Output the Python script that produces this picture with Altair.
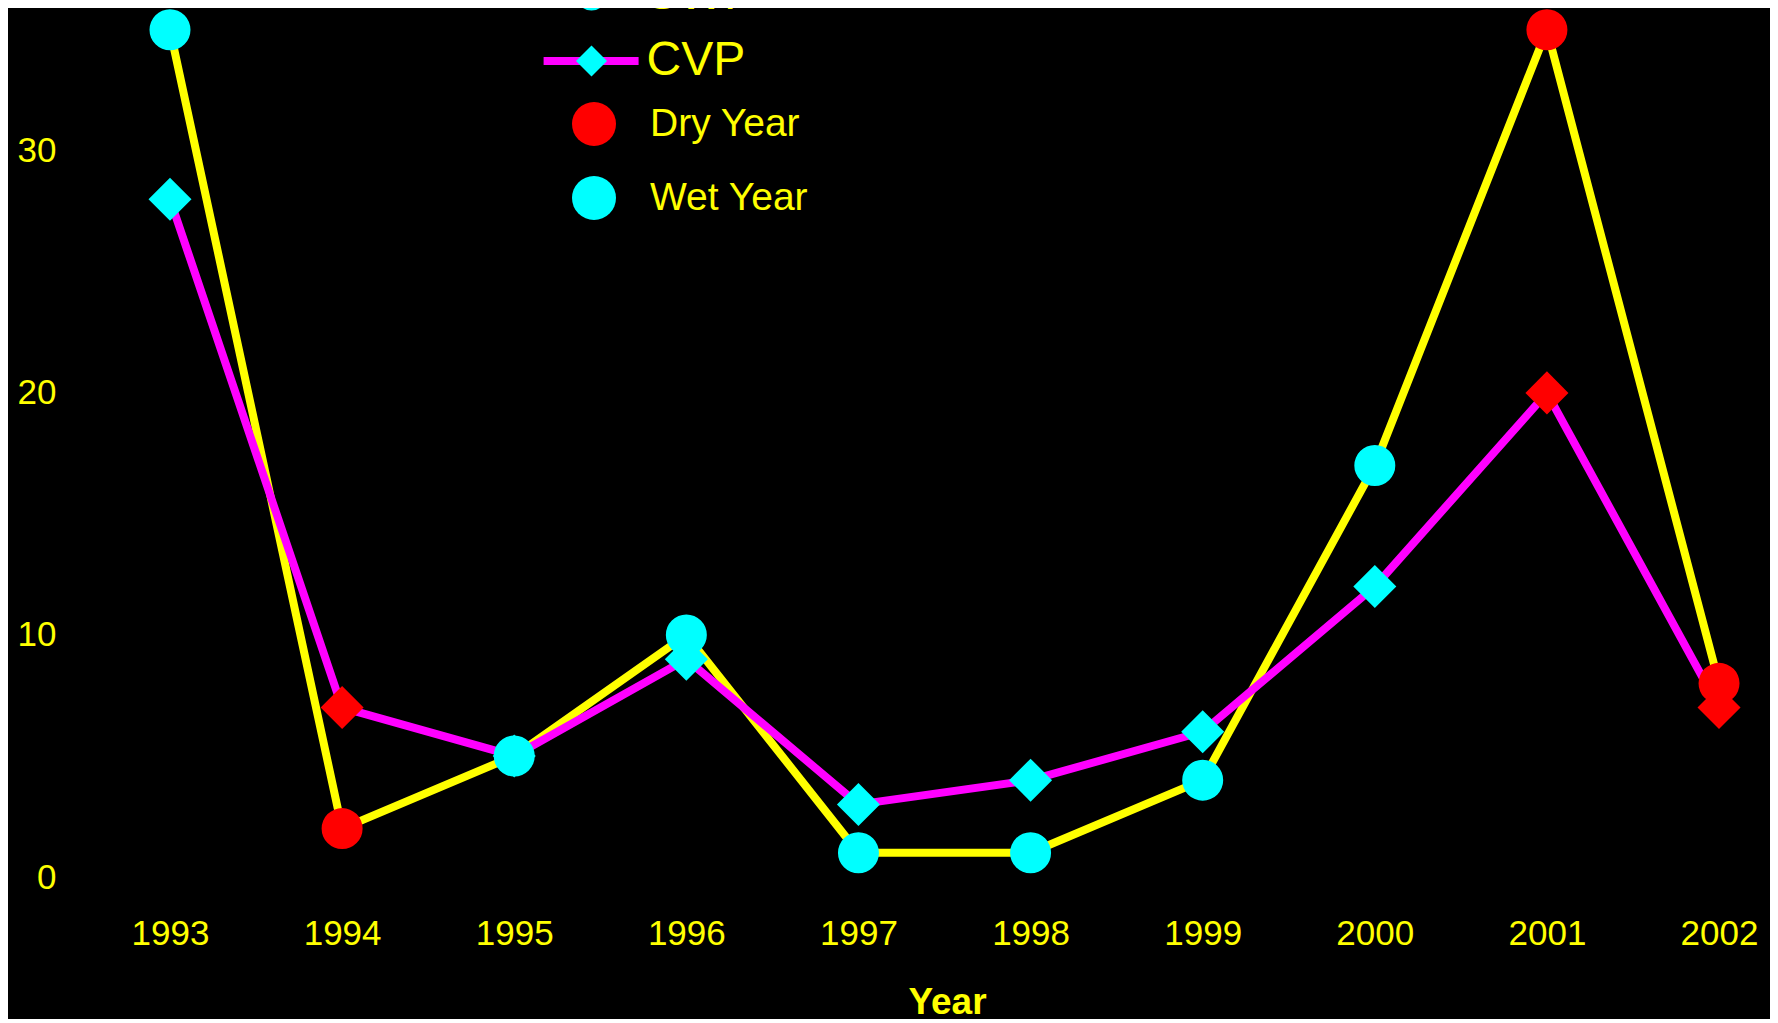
import altair as alt
import pandas as pd

years = [1993, 1994, 1995, 1996, 1997, 1998, 1999, 2000, 2001, 2002]
swp = [35, 2, 5, 10, 1, 1, 4, 17, 35, 8]
cvp = [28, 7, 5, 9, 3, 4, 6, 12, 20, 7]
year_type = ["Wet Year", "Dry Year", "Wet Year", "Wet Year", "Wet Year",
             "Wet Year", "Wet Year", "Wet Year", "Dry Year", "Dry Year"]
series_names = ["SWP", "CVP"]
type_names = ["Dry Year", "Wet Year"]
y_ticks = [0, 10, 20, 30]

rows = []
for name, vals in zip(series_names, [swp, cvp]):
    for yr, v, t in zip(years, vals, year_type):
        rows.append({"Year": yr, "value": v, "series": name, "type": t})
df = pd.DataFrame(rows)

YELLOW = "#FFFF00"
MAGENTA = "#FF00FF"
CYAN = "#00FFFF"
RED = "#FF0000"
FONT = "Liberation Sans"

x = alt.X(
    "Year:Q",
    scale=alt.Scale(domain=[1992.419, 2002.238], nice=False, zero=False),
    axis=alt.Axis(
        values=years, format="d", title="Year",
        labelBaseline="alphabetic", labelPadding=67, tickSize=0, ticks=False,
        labelFlush=False, labelOverlap=False,
        titleX=877, titleY=136, titleBaseline="alphabetic", titleAlign="center",
        titleFontSize=37, titleFontWeight="bold", titleColor=YELLOW, titleFont=FONT,
    ),
)
y = alt.Y(
    "value:Q",
    scale=alt.Scale(domain=[0, 35.9], nice=False),
    axis=alt.Axis(values=y_ticks, title=None, labelPadding=14, tickSize=0, ticks=False),
)

base = alt.Chart(df)

lines = base.mark_line(strokeWidth=8, strokeCap="round", strokeJoin="round").encode(
    x=x, y=y,
    stroke=alt.Stroke(
        "series:N", sort=series_names,
        scale=alt.Scale(range=[YELLOW, MAGENTA]),
        legend=alt.Legend(
            title=None, orient="none", legendX=469.6, legendY=-37,
            symbolType="stroke", symbolSize=9025, symbolStrokeWidth=8,
            clipHeight=48, rowPadding=18, labelOffset=4,
            labelFontSize=48, labelColor=YELLOW, labelFont=FONT,
            padding=0, zindex=1,
        ),
    ),
)

shape_enc = alt.Shape(
    "series:N",
    scale=alt.Scale(domain=series_names, range=["circle", "diamond"]),
    legend=alt.Legend(
        title=None, orient="none", legendX=497.5, legendY=-37,
        symbolSize=961, symbolFillColor=CYAN, symbolStrokeWidth=0,
        clipHeight=48, rowPadding=18, labelOpacity=0, labelFontSize=48,
        padding=0, zindex=2,
    ),
)
fill_enc = alt.Fill(
    "type:N",
    scale=alt.Scale(domain=type_names, range=[RED, CYAN]),
    legend=alt.Legend(
        title=None, orient="none", legendX=502, legendY=94,
        symbolType="circle", symbolSize=1936, symbolStrokeWidth=0,
        rowPadding=30, labelOffset=34, labelFontSize=39,
        labelColor=YELLOW, labelFont=FONT, padding=0,
    ),
)

circles = base.transform_filter(alt.datum.series == "SWP").mark_point(
    filled=True, size=1681, opacity=1
).encode(x=x, y=y, shape=shape_enc, fill=fill_enc)

diamonds = base.transform_filter(alt.datum.series == "CVP").mark_point(
    filled=True, size=1850, opacity=1
).encode(x=x, y=y, shape=shape_enc, fill=fill_enc)

chart = alt.layer(lines, circles, diamonds).properties(
    width=1690, height=869,
    background="#000000",
    padding={"left": 62, "top": 0, "right": 10, "bottom": 142},
    autosize=alt.AutoSizeParams(type="none"),
).configure_view(stroke=None).configure_axis(
    domain=False, grid=False, ticks=False,
    labelColor=YELLOW, labelFont=FONT, labelFontSize=35,
)

chart.save("out.html", embed_options={"renderer": "svg", "actions": False})
